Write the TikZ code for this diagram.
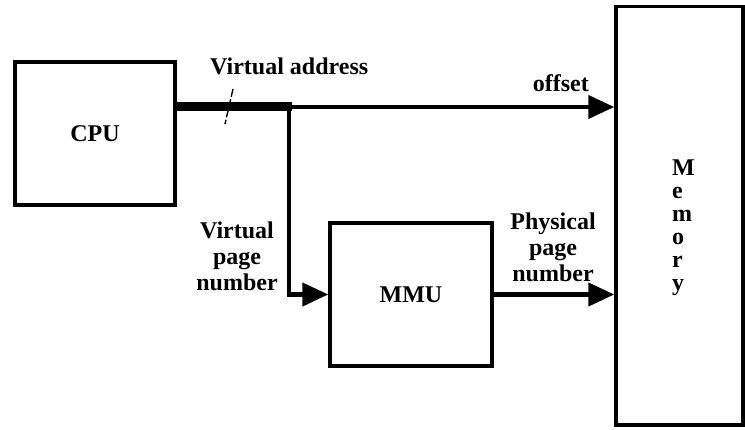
\documentclass[tikz,border=0pt]{standalone}
\usepackage{fontspec}
\setmainfont{Liberation Serif}
\usetikzlibrary{arrows.meta}
\tikzset{
  box/.style={draw=black, line width=3.5pt, inner sep=0pt, fill=none},
  lbl/.style={inner sep=0pt, font=\fontsize{24}{26}\selectfont\bfseries},
  wire/.style={draw=black, line width=4.5pt},
  bus/.style={draw=black, line width=9pt},
  tip/.style={-{Triangle[length=26pt,width=23pt]}},
  slash/.style={draw=black, line width=1.4pt, dash pattern=on 8pt off 2.5pt}
}
\begin{document}
\begin{tikzpicture}[x=1pt,y=-1pt]
\useasboundingbox (0,0) rectangle (745,430);
% boxes
\node[box, lbl, minimum width=160pt, minimum height=143pt] (cpu) at (95,133.5) {CPU};
\node[box, lbl, minimum width=162pt, minimum height=143pt] (mmu) at (411,294.5) {MMU};
\node[box, minimum width=127pt, minimum height=418.5pt] (mem) at (679.5,215.75) {};
% memory text
\node[lbl, anchor=north west, align=left, font=\fontsize{24}{23}\selectfont\bfseries] (memtext) at (672,159.5) {M\\e\\m\\o\\r\\y};
% junction
\coordinate (j) at (289,107);
\coordinate (jtop) at (289,103);
\coordinate (bend) at (292,107);
% bus
\draw[bus] (cpu.east |- j) -- (bend);
% offset line
\draw[wire, tip] (j) -- (mem.west |- j);
% virtual page number line
\draw[wire, tip] (jtop) |- (mmu.west);
% physical page number
\draw[wire, tip] (mmu.east) -- (mem.west |- mmu.east);
% slash
\coordinate (s1) at (233,89);
\coordinate (s2) at (225,124);
\draw[slash] (s1) -- (s2);
% labels
\node[lbl, anchor=base west] (va) at (210,75) {Virtual address};
\node[lbl, anchor=base east] (off) at (589,92) {offset};
\node[lbl, anchor=north, align=center] (vpn) at (237,221.6) {Virtual\\page\\number};
\node[lbl, anchor=north, align=center] (ppn) at (553,212.6) {Physical\\page\\number};
\end{tikzpicture}
\end{document}
